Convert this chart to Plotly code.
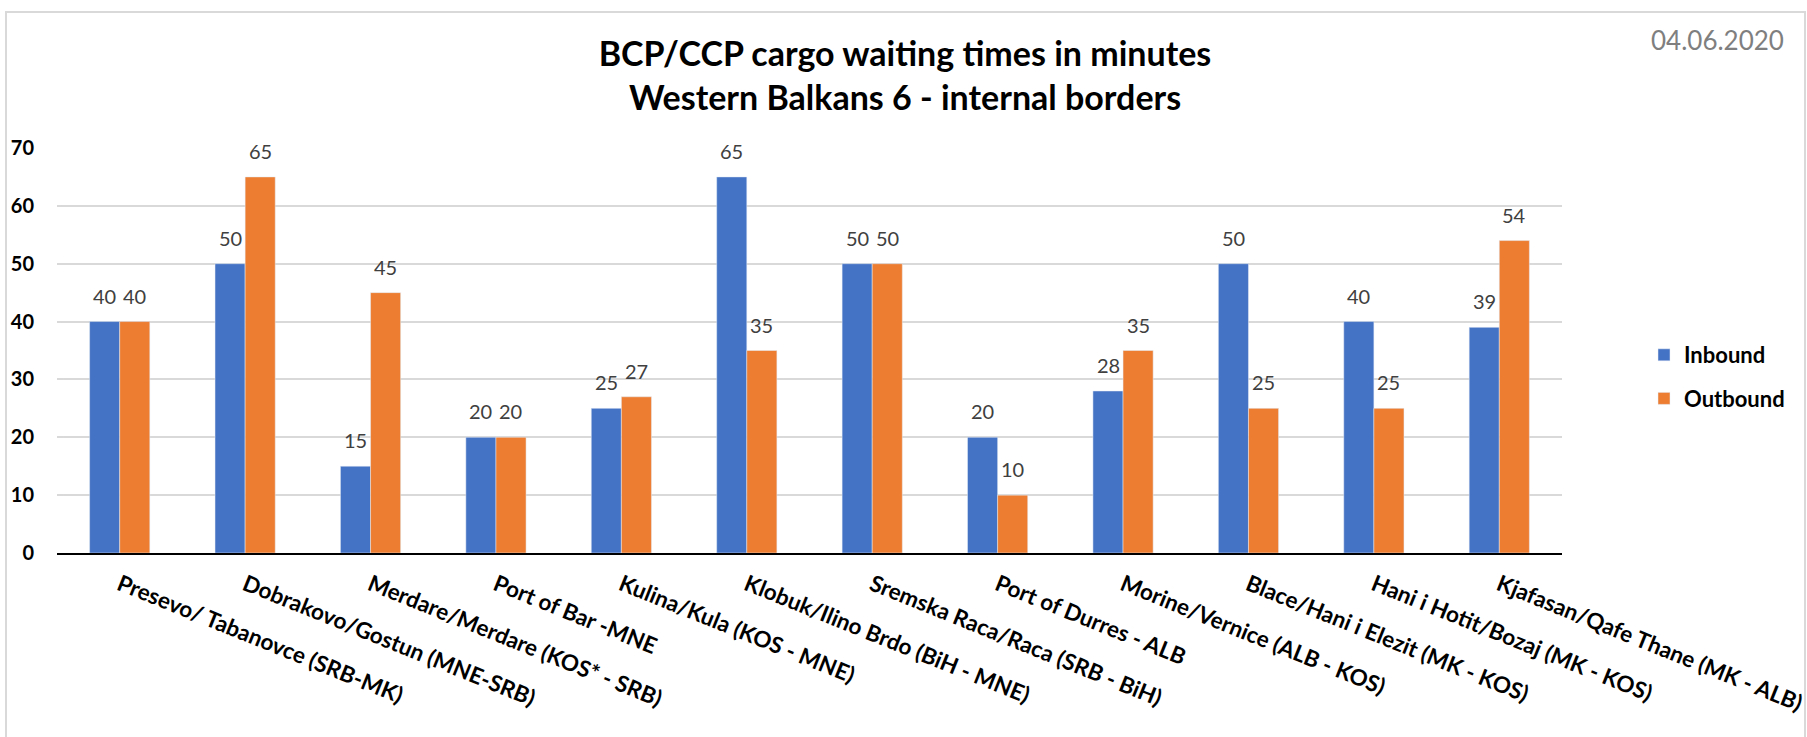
import plotly.graph_objects as go

categories = [
    "Presevo/ Tabanovce (SRB-MK)",
    "Dobrakovo/Gostun (MNE-SRB)",
    "Merdare/Merdare (KOS* - SRB)",
    "Port of Bar -MNE",
    "Kulina/Kula (KOS - MNE)",
    "Klobuk/Ilino Brdo (BiH - MNE)",
    "Sremska Raca/Raca (SRB - BiH)",
    "Port of Durres - ALB",
    "Morine/Vernice (ALB - KOS)",
    "Blace/Hani i Elezit (MK - KOS)",
    "Hani i Hotit/Bozaj (MK - KOS)",
    "Kjafasan/Qafe Thane (MK - ALB)",
]
inbound = [40, 50, 15, 20, 25, 65, 50, 20, 28, 50, 40, 39]
outbound = [40, 65, 45, 20, 27, 35, 50, 10, 35, 25, 25, 54]
y_ticks = [0, 10, 20, 30, 40, 50, 60, 70]

title_line1 = "BCP/CCP cargo waiting times in minutes"
title_line2 = "Western Balkans 6 - internal borders"
date_text = "04.06.2020"

BLUE = "#4472C4"
ORANGE = "#ED7D31"
FONT = "Lato"

W, H = 1807, 737
ML, MR, MT, MB = 57, 245, 148, 184
PW = W - ML - MR
PH = H - MT - MB

fig = go.Figure()
fig.add_trace(go.Bar(name="Inbound", x=categories, y=inbound, marker_color=BLUE,
                     legendgroup="a", hoverinfo="x+y"))
fig.add_trace(go.Bar(name="Outbound", x=categories, y=outbound, marker_color=ORANGE,
                     legendgroup="b", hoverinfo="x+y"))

annotations = []
for cat, vi, vo in zip(categories, inbound, outbound):
    for v, dx in ((vi, -15), (vo, 15)):
        annotations.append(dict(
            x=cat, y=v, xref="x", yref="y", text=str(v), showarrow=False,
            xshift=dx, yshift=12, yanchor="bottom", xanchor="center",
            font=dict(family=FONT, size=20, color="#404040"),
        ))

# date in the top right corner
annotations.append(dict(
    x=(1786 - ML) / PW, y=(H - MB - 40) / PH, xref="paper", yref="paper",
    text=date_text, showarrow=False, xanchor="right", yanchor="middle",
    font=dict(family=FONT, size=26, color="#7F7F7F"),
))

fig.update_layout(
    width=W, height=H,
    margin=dict(l=ML, r=MR, t=MT, b=MB, pad=0, autoexpand=False),
    paper_bgcolor="white", plot_bgcolor="white",
    barmode="group", bargap=0.52, bargroupgap=0,
    font=dict(family=FONT, color="#000000"),
    title=dict(
        text=f"<b>{title_line1}</b><br><b>{title_line2}</b>",
        x=905 / W, xanchor="center", xref="container",
        y=1 - 66 / H, yanchor="top", yref="container",
        font=dict(family=FONT, size=34, color="#000000"),
    ),
    xaxis=dict(
        tickangle=22, showgrid=False, showline=True, linecolor="#000000",
        linewidth=2, ticks="", automargin=False,
        tickfont=dict(family=FONT, size=22.5, color="#000000", weight="bold"),
        ticklabelstandoff=8,
    ),
    yaxis=dict(
        range=[0, 70], tickvals=y_ticks, showgrid=True, gridcolor="#D9D9D9",
        gridwidth=1.5, zeroline=False, showline=False, ticks="", automargin=False,
        tickfont=dict(family=FONT, size=20, color="#000000", weight="bold"),
        ticklabelstandoff=22,
    ),
    legend=dict(
        xref="container", yref="container", x=1644 / W, y=1 - 334 / H,
        xanchor="left", yanchor="top", tracegroupgap=12, traceorder="grouped",
        font=dict(family=FONT, size=22, color="#000000", weight="bold"),
        itemwidth=30, bgcolor="rgba(0,0,0,0)",
    ),
    annotations=annotations,
    shapes=[dict(
        type="rect", xref="paper", yref="paper",
        x0=(6 - ML) / PW, x1=(1805 - ML) / PW,
        y0=(H - MB - 745) / PH, y1=(H - MB - 12) / PH,
        line=dict(color="#D9D9D9", width=2), fillcolor="rgba(0,0,0,0)", layer="below",
    )],
    showlegend=True,
)

fig.write_html("out.html", config={"displayModeBar": False},
               post_script="document.body.style.margin='0';document.body.style.overflow='hidden';")
